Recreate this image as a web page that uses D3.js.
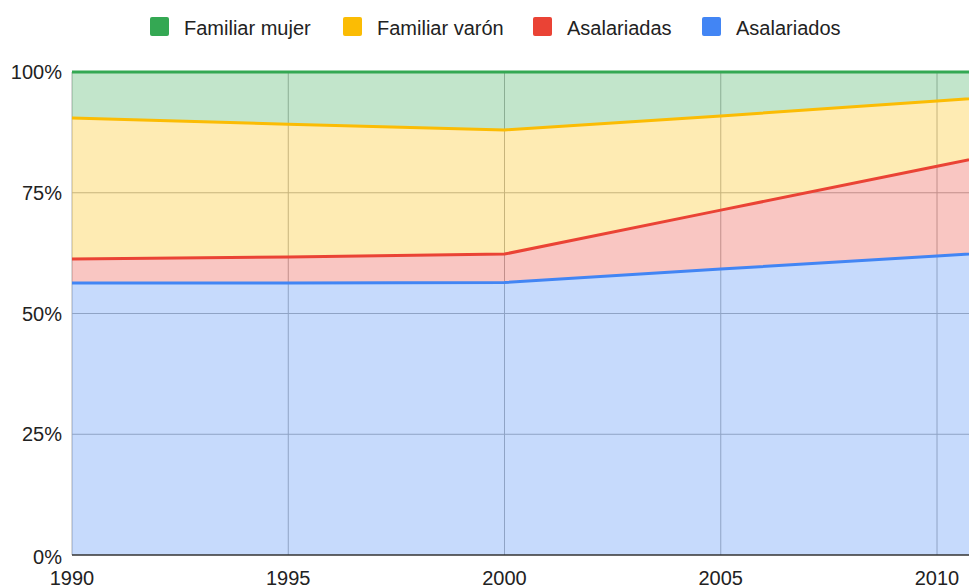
<!DOCTYPE html>
<html>
<head>
<meta charset="utf-8">
<script src="https://cdn.jsdelivr.net/npm/d3@7"></script>
<style>
  body { margin: 0; background: #fff; }
  svg { display: block; font-family: Arial, "Liberation Sans", sans-serif; }
</style>
</head>
<body>
<svg id="chart" width="969" height="588"></svg>
<script>
// years on the x axis (the chart is cut off a little after 2010)
const years = [1990, 1995, 2000, 2005, 2010, 2015];

// share of each group, in percent
const asalariados = [56.3, 56.3, 56.4, 59.2, 61.9, 64.6];
const asalariadas = [5.0, 5.4, 5.9, 12.2, 18.6, 25.0];
const familiarVaron = [29.2, 27.5, 25.7, 19.5, 13.5, 7.5];
const familiarMujer = [9.5, 10.8, 12.0, 9.1, 6.0, 2.9];

const seriesNames = ['Asalariados', 'Asalariadas', 'Familiar varón', 'Familiar mujer'];
const seriesColors = ['#4285f4', '#ea4335', '#fbbc04', '#34a853'];
const legendOrder = ['Familiar mujer', 'Familiar varón', 'Asalariadas', 'Asalariados'];

const xTicks = [1990, 1995, 2000, 2005, 2010];
const yTicks = [0, 25, 50, 75, 100];

const svg = d3.select('#chart');

const margin = { top: 72, left: 72, bottom: 33 };
const height = +svg.attr('height');
const innerHeight = height - margin.top - margin.bottom;

// 5 years are about 216 px wide
const xScale = d3.scaleLinear()
  .domain([1990, 1995])
  .range([margin.left, margin.left + 216.25]);

const yScale = d3.scaleLinear()
  .domain([0, 100])
  .range([margin.top + innerHeight, margin.top]);

// build rows for the stack
const table = years.map((y, i) => ({
  year: y,
  'Asalariados': asalariados[i],
  'Asalariadas': asalariadas[i],
  'Familiar varón': familiarVaron[i],
  'Familiar mujer': familiarMujer[i]
}));

const stacked = d3.stack().keys(seriesNames)(table);

const g = svg.append('g');

// gridlines
g.selectAll('.hgrid').data(yTicks.filter(d => d > 0))
  .enter().append('line')
  .attr('x1', margin.left).attr('x2', 969)
  .attr('y1', d => yScale(d)).attr('y2', d => yScale(d))
  .attr('stroke', '#b0b0b0').attr('stroke-width', 1);

g.selectAll('.vgrid').data(xTicks)
  .enter().append('line')
  .attr('x1', d => xScale(d)).attr('x2', d => xScale(d))
  .attr('y1', yScale(100)).attr('y2', yScale(0))
  .attr('stroke', '#b0b0b0').attr('stroke-width', 1);

// areas
const area = d3.area()
  .x(d => xScale(d.data.year))
  .y0(d => yScale(d[0]))
  .y1(d => yScale(d[1]));

g.selectAll('.area').data(stacked)
  .enter().append('path')
  .attr('d', area)
  .attr('fill', (d, i) => seriesColors[i])
  .attr('fill-opacity', 0.3);

// top edge of each series
const line = d3.line()
  .x(d => xScale(d.data.year))
  .y(d => yScale(d[1]));

g.selectAll('.edge').data(stacked)
  .enter().append('path')
  .attr('d', line)
  .attr('fill', 'none')
  .attr('stroke', (d, i) => seriesColors[i])
  .attr('stroke-width', 3);

// baseline
g.append('line')
  .attr('x1', margin.left).attr('x2', 969)
  .attr('y1', yScale(0)).attr('y2', yScale(0))
  .attr('stroke', '#333').attr('stroke-width', 1.5);

// axis labels
g.selectAll('.ylab').data(yTicks)
  .enter().append('text')
  .attr('x', 62)
  .attr('y', d => yScale(d) + (d === 0 ? 2 : 0))
  .attr('dy', '0.35em')
  .attr('text-anchor', 'end')
  .attr('font-size', 20)
  .attr('fill', '#222')
  .text(d => d + '%');

g.selectAll('.xlab').data(xTicks)
  .enter().append('text')
  .attr('x', d => xScale(d))
  .attr('y', 585)
  .attr('text-anchor', 'middle')
  .attr('font-size', 20)
  .attr('fill', '#222')
  .text(d => d);

// legend
const legendX = [150, 343, 533, 702];
const legend = svg.append('g');
legendOrder.forEach((name, i) => {
  const color = seriesColors[seriesNames.indexOf(name)];
  legend.append('rect')
    .attr('x', legendX[i]).attr('y', 17)
    .attr('width', 19).attr('height', 19)
    .attr('rx', 2)
    .attr('fill', color);
  legend.append('text')
    .attr('x', legendX[i] + 34).attr('y', 35)
    .attr('font-size', 20)
    .attr('fill', '#222')
    .text(name);
});
</script>
</body>
</html>
